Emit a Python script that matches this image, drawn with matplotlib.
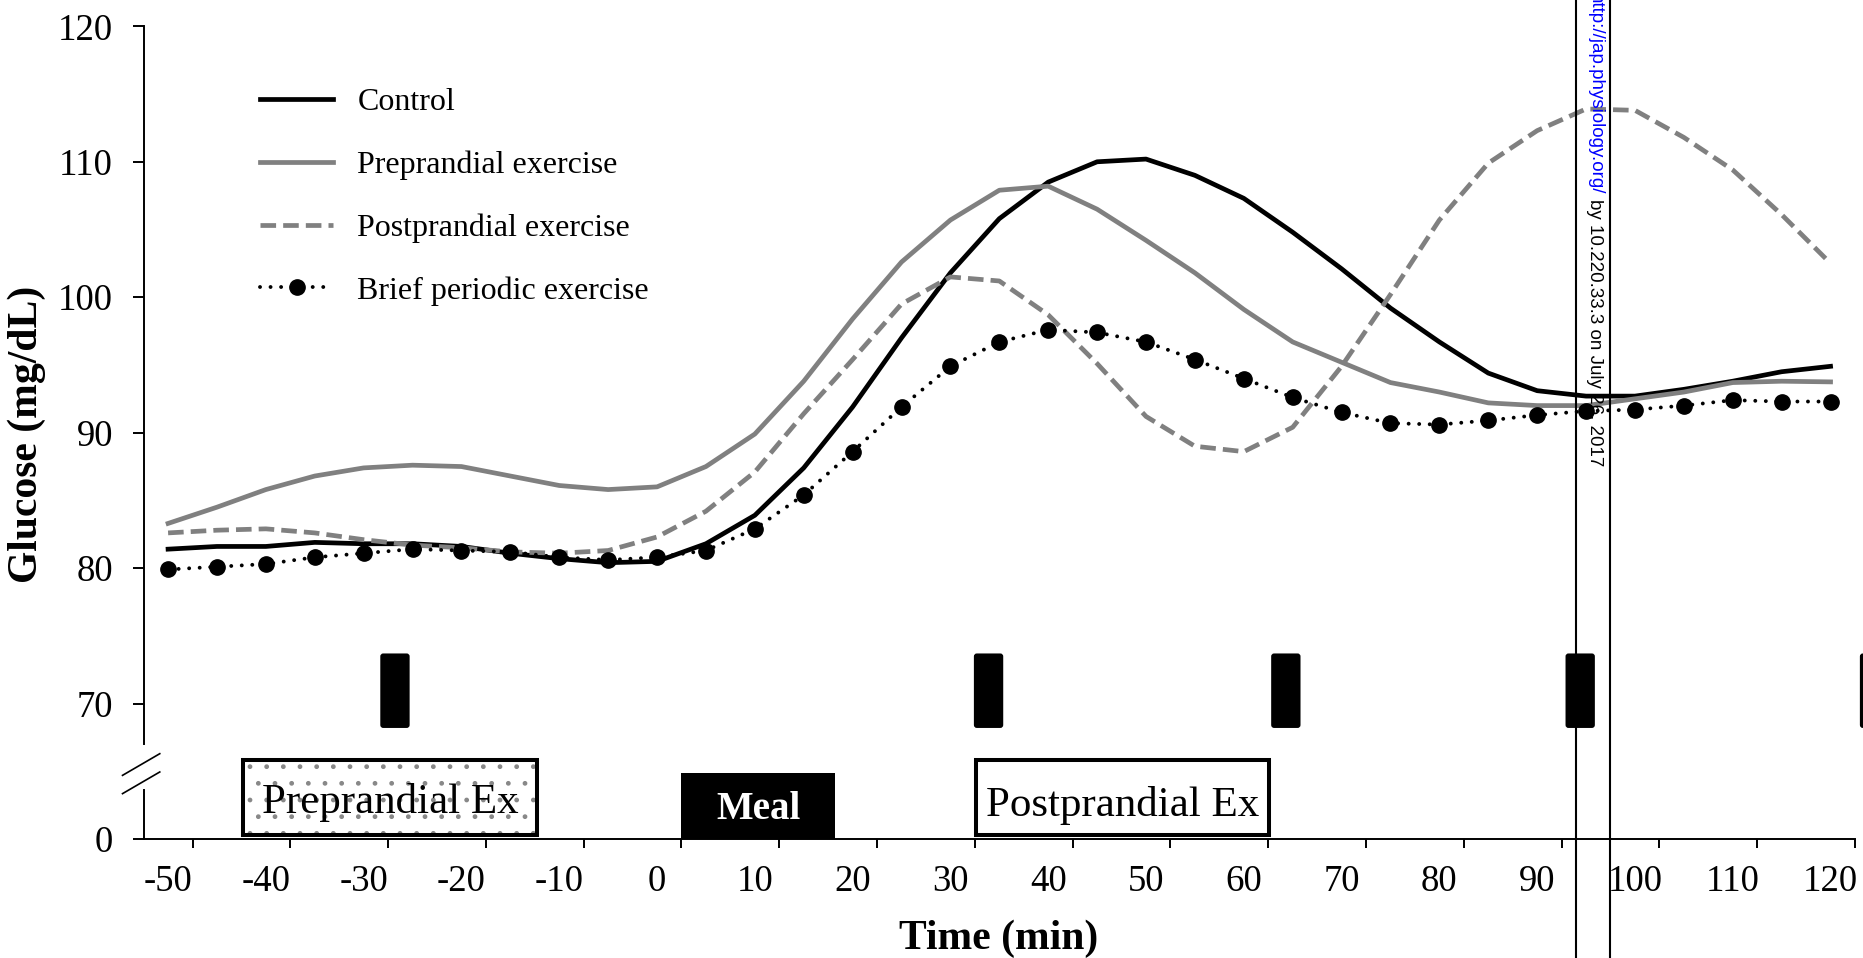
import matplotlib
matplotlib.use("Agg")
import matplotlib.pyplot as plt
from matplotlib.patches import Rectangle, FancyBboxPatch
from matplotlib.lines import Line2D

# time points (min), every 5 min
time_min = [-50, -45, -40, -35, -30, -25, -20, -15, -10, -5, 0, 5, 10, 15, 20,
            25, 30, 35, 40, 45, 50, 55, 60, 65, 70, 75, 80, 85, 90, 95, 100,
            105, 110, 115, 120]

control = [81.4, 81.6, 81.6, 81.9, 81.8, 81.8, 81.6, 81.1, 80.7, 80.4, 80.5,
           81.8, 83.9, 87.4, 91.9, 97.0, 101.8, 105.8, 108.5, 110.0, 110.2,
           109.0, 107.3, 104.8, 102.1, 99.2, 96.7, 94.4, 93.1, 92.7, 92.7,
           93.2, 93.8, 94.5, 94.9]
preprandial = [83.3, 84.5, 85.8, 86.8, 87.4, 87.6, 87.5, 86.8, 86.1, 85.8, 86.0,
               87.5, 89.9, 93.8, 98.4, 102.6, 105.7, 107.9, 108.2, 106.5, 104.2,
               101.8, 99.1, 96.7, 95.2, 93.7, 93.0, 92.2, 92.0, 92.0, 92.5,
               93.0, 93.7, 93.8, 93.75]
postprandial = [82.6, 82.8, 82.9, 82.6, 82.1, 81.7, 81.5, 81.2, 81.1, 81.3, 82.3,
                84.2, 87.1, 91.4, 95.4, 99.5, 101.5, 101.2, 98.7, 95.1, 91.2,
                89.0, 88.6, 90.4, 94.9, 100.2, 105.7, 109.9, 112.3, 113.9, 113.8,
                111.8, 109.4, 106.1, 102.5]
brief = [79.9, 80.1, 80.3, 80.8, 81.1, 81.4, 81.3, 81.2, 80.8, 80.6, 80.8,
         81.3, 82.9, 85.4, 88.6, 91.9, 94.9, 96.7, 97.6, 97.4, 96.7,
         95.4, 94.0, 92.6, 91.5, 90.7, 90.6, 90.9, 91.3, 91.6, 91.7,
         92.0, 92.4, 92.3, 92.3]

# brief exercise bouts (start, min), each 3 min long
bout_starts = [-28.3, 32.4, 62.8, 92.9, 123.0]
bout_len = 3.0

# event boxes: (start, end, label)
pre_ex = (-42.3, -12.3, "Preprandial Ex")
meal = (2.5, 18.2, "Meal")
post_ex = (32.6, 62.6, "Postprandial Ex")

x_labels = [-50, -40, -30, -20, -10, 0, 10, 20, 30, 40, 50, 60, 70, 80, 90,
            100, 110, 120]
y_ticks = [60, 70, 80, 90, 100, 110, 120]   # 60 is drawn as the "0" of the broken axis
y_labels = ["0", "70", "80", "90", "100", "110", "120"]

plt.rcParams['font.family'] = ['Liberation Serif', 'DejaVu Serif']
plt.rcParams['axes.unicode_minus'] = False

fig = plt.figure(figsize=(18.63, 9.58), dpi=100)
ax = fig.add_axes([0.0771, 0.1242, 0.9186, 0.8483])

gray = "#808080"
ax.plot(time_min, control, color="black", lw=3.4, label="Control", zorder=3)
ax.plot(time_min, preprandial, color=gray, lw=3.4, label="Preprandial exercise", zorder=3)
ax.plot(time_min, postprandial, color=gray, lw=3.4, ls=(0, (3.3, 1.5)),
        label="Postprandial exercise", zorder=3)
ax.plot(time_min, brief, color="black", lw=2.8, ls=(0, (0.01, 2.7)),
        dash_capstyle="round", marker="o", markersize=11,
        label="Brief periodic exercise", zorder=4)

ax.set_xlim(-52.5, 122.5)
ax.set_ylim(60, 120)

# axes look
for s in ["top", "right"]:
    ax.spines[s].set_visible(False)
ax.spines["left"].set_linewidth(1.4)
ax.spines["bottom"].set_linewidth(1.4)
ax.spines["left"].set_bounds(67.05, 120)
ax.plot([-52.5, -52.5], [60, 63.6], color="black", lw=1.4, clip_on=False)
# break marks
ax.plot([-54.66, -50.85], [64.7, 66.3], color="black", lw=1.2, clip_on=False)
ax.plot([-54.66, -50.85], [63.35, 64.95], color="black", lw=1.2, clip_on=False)

ax.set_yticks(y_ticks)
ax.set_yticklabels(y_labels)
ax.tick_params(axis="y", length=8, width=1.4, pad=14, labelsize=26.5)

ax.set_xticks(x_labels)
ax.set_xticks([v + 2.5 for v in x_labels], minor=True)
ax.tick_params(axis="x", which="major", length=0, pad=18, labelsize=26.5)
ax.tick_params(axis="x", which="minor", length=6.5, width=1.4)

fig.text(27 / 1863, 1 - 434 / 958, "Glucose (mg/dL)", rotation=90, ha="center",
         va="center", fontsize=30, fontweight="bold")
fig.text(998.8 / 1863, 1 - 949.3 / 958, "Time (min)", ha="center", va="baseline",
         fontsize=30, fontweight="bold")

# exercise bouts
for b in bout_starts:
    ax.add_patch(FancyBboxPatch((b, 68.2), bout_len, 5.5,
                                boxstyle="round,pad=0,rounding_size=0.3",
                                mutation_aspect=0.722, fc="black", ec="none",
                                clip_on=False))

# event boxes
ax.add_patch(Rectangle((pre_ex[0], 60.3), pre_ex[1] - pre_ex[0], 5.5,
                       fc="white", ec="#888888", lw=0, hatch=".", zorder=2))
ax.add_patch(Rectangle((pre_ex[0], 60.3), pre_ex[1] - pre_ex[0], 5.5,
                       fill=False, ec="black", lw=2.9, zorder=2))
ax.text((pre_ex[0] + pre_ex[1]) / 2, 61.9, pre_ex[2], ha="center", va="baseline",
        fontsize=31, zorder=3)

ax.add_patch(Rectangle((meal[0], 60), meal[1] - meal[0], 4.9,
                       fc="black", ec="none", zorder=2))
ax.text((meal[0] + meal[1]) / 2, 61.45, meal[2], ha="center", va="baseline",
        fontsize=28, fontweight="bold", color="white", zorder=3)

ax.add_patch(Rectangle((post_ex[0], 60.3), post_ex[1] - post_ex[0], 5.5,
                       fc="white", ec="black", lw=2.9, zorder=2))
ax.text((post_ex[0] + post_ex[1]) / 2, 61.7, post_ex[2], ha="center", va="baseline",
        fontsize=31, zorder=3)

ax.legend(loc="upper left", bbox_to_anchor=(260 / 1863, 1 - 88 / 958),
          bbox_transform=fig.transFigure, frameon=False, fontsize=23,
          handlelength=2.3, handletextpad=0.75, labelspacing=1.04,
          borderpad=0, borderaxespad=0, numpoints=1)

# download stamp on the right
for xp in [1575.5, 1610.3]:
    fig.add_artist(Line2D([xp / 1863, xp / 1863], [0, 1], transform=fig.transFigure,
                          color="black", lw=1.5))
fig.text(1595 / 1863, 1 + 6.6 / 958, "http://jap.physiology.org/", rotation=270,
         ha="center", va="top", color="blue", fontsize=13.5, family="Liberation Sans")
fig.text(1595 / 1863, 1 - 199 / 958, "by 10.220.33.3 on July 26, 2017", rotation=270,
         ha="center", va="top", color="black", fontsize=13.5, family="Liberation Sans")

fig.savefig("out.png", dpi=100)
